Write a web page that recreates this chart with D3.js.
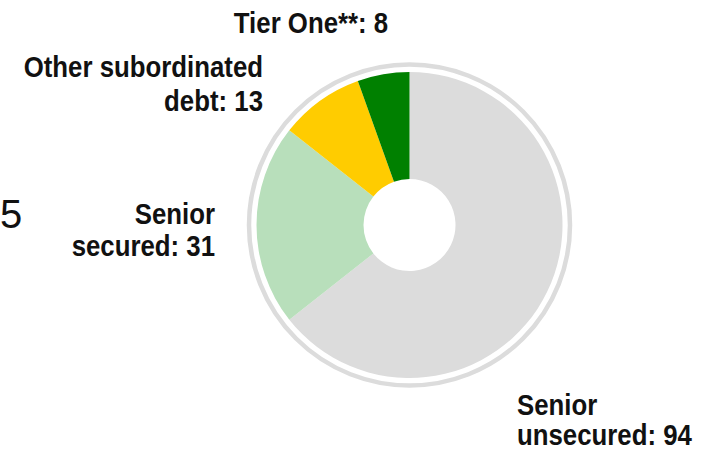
<!DOCTYPE html>
<html>
<head>
<meta charset="utf-8">
<script src="https://cdn.jsdelivr.net/npm/d3@7"></script>
<style>
  html, body { margin: 0; padding: 0; background: #fff; overflow: hidden; }
  svg { display: block; }
  .lbl { font-family: "Liberation Sans Narrow", "Liberation Sans", Arial, sans-serif; font-weight: bold; fill: #111; }
</style>
</head>
<body>
<svg id="chart" width="710" height="453"></svg>
<script>
const categories = ["Senior unsecured", "Senior secured", "Other subordinated debt", "Tier One**"];
const values = [94, 31, 13, 8];
const colors = ["#dcdcdc", "#b8dfbb", "#ffcc00", "#008000"];
const labelLines = [
  ["Senior", "unsecured: 94"],
  ["Senior", "secured: 31"],
  ["Other subordinated", "debt: 13"],
  ["Tier One**: 8"]
];
const sideText = "5";

const svg = d3.select("#chart");
const cx = 409.5, cy = 225;
const outerR = 153, innerR = 46, ringR = 160.5;

const g = svg.append("g").attr("transform", `translate(${cx},${cy})`);

g.append("circle")
  .attr("r", ringR)
  .attr("fill", "none")
  .attr("stroke", "#dcdcdc")
  .attr("stroke-width", 4.5);

const pie = d3.pie().sort(null).value(d => d);
const arc = d3.arc().innerRadius(innerR).outerRadius(outerR);
const arcs = pie(values);

g.selectAll("path.slice")
  .data(arcs)
  .join("path")
  .attr("class", "slice")
  .attr("d", arc)
  .attr("fill", (d, i) => colors[i]);

const labelPos = [
  { x: 517, y: 415, anchor: "start", lh: 30 },
  { x: 215, y: 224, anchor: "end", lh: 32 },
  { x: 263, y: 77, anchor: "end", lh: 34 },
  { x: 311, y: 33, anchor: "middle", lh: 32 }
];
const fs = 30;
const sx = 0.86;

labelLines.forEach((lines, i) => {
  const p = labelPos[i];
  const t = svg.append("g")
    .attr("transform", `translate(${p.x},${p.y}) scale(${sx},1)`)
    .append("text")
    .attr("class", "lbl")
    .attr("font-size", fs)
    .attr("text-anchor", p.anchor)
    .attr("x", 0).attr("y", 0);
  lines.forEach((ln, j) => {
    t.append("tspan").attr("x", 0).attr("dy", j === 0 ? 0 : p.lh).text(ln);
  });
});

svg.append("text")
  .attr("x", 0).attr("y", 228)
  .attr("font-family", "Liberation Sans, Arial, sans-serif")
  .attr("font-size", 40)
  .attr("fill", "#111")
  .text(sideText);
</script>
</body>
</html>
